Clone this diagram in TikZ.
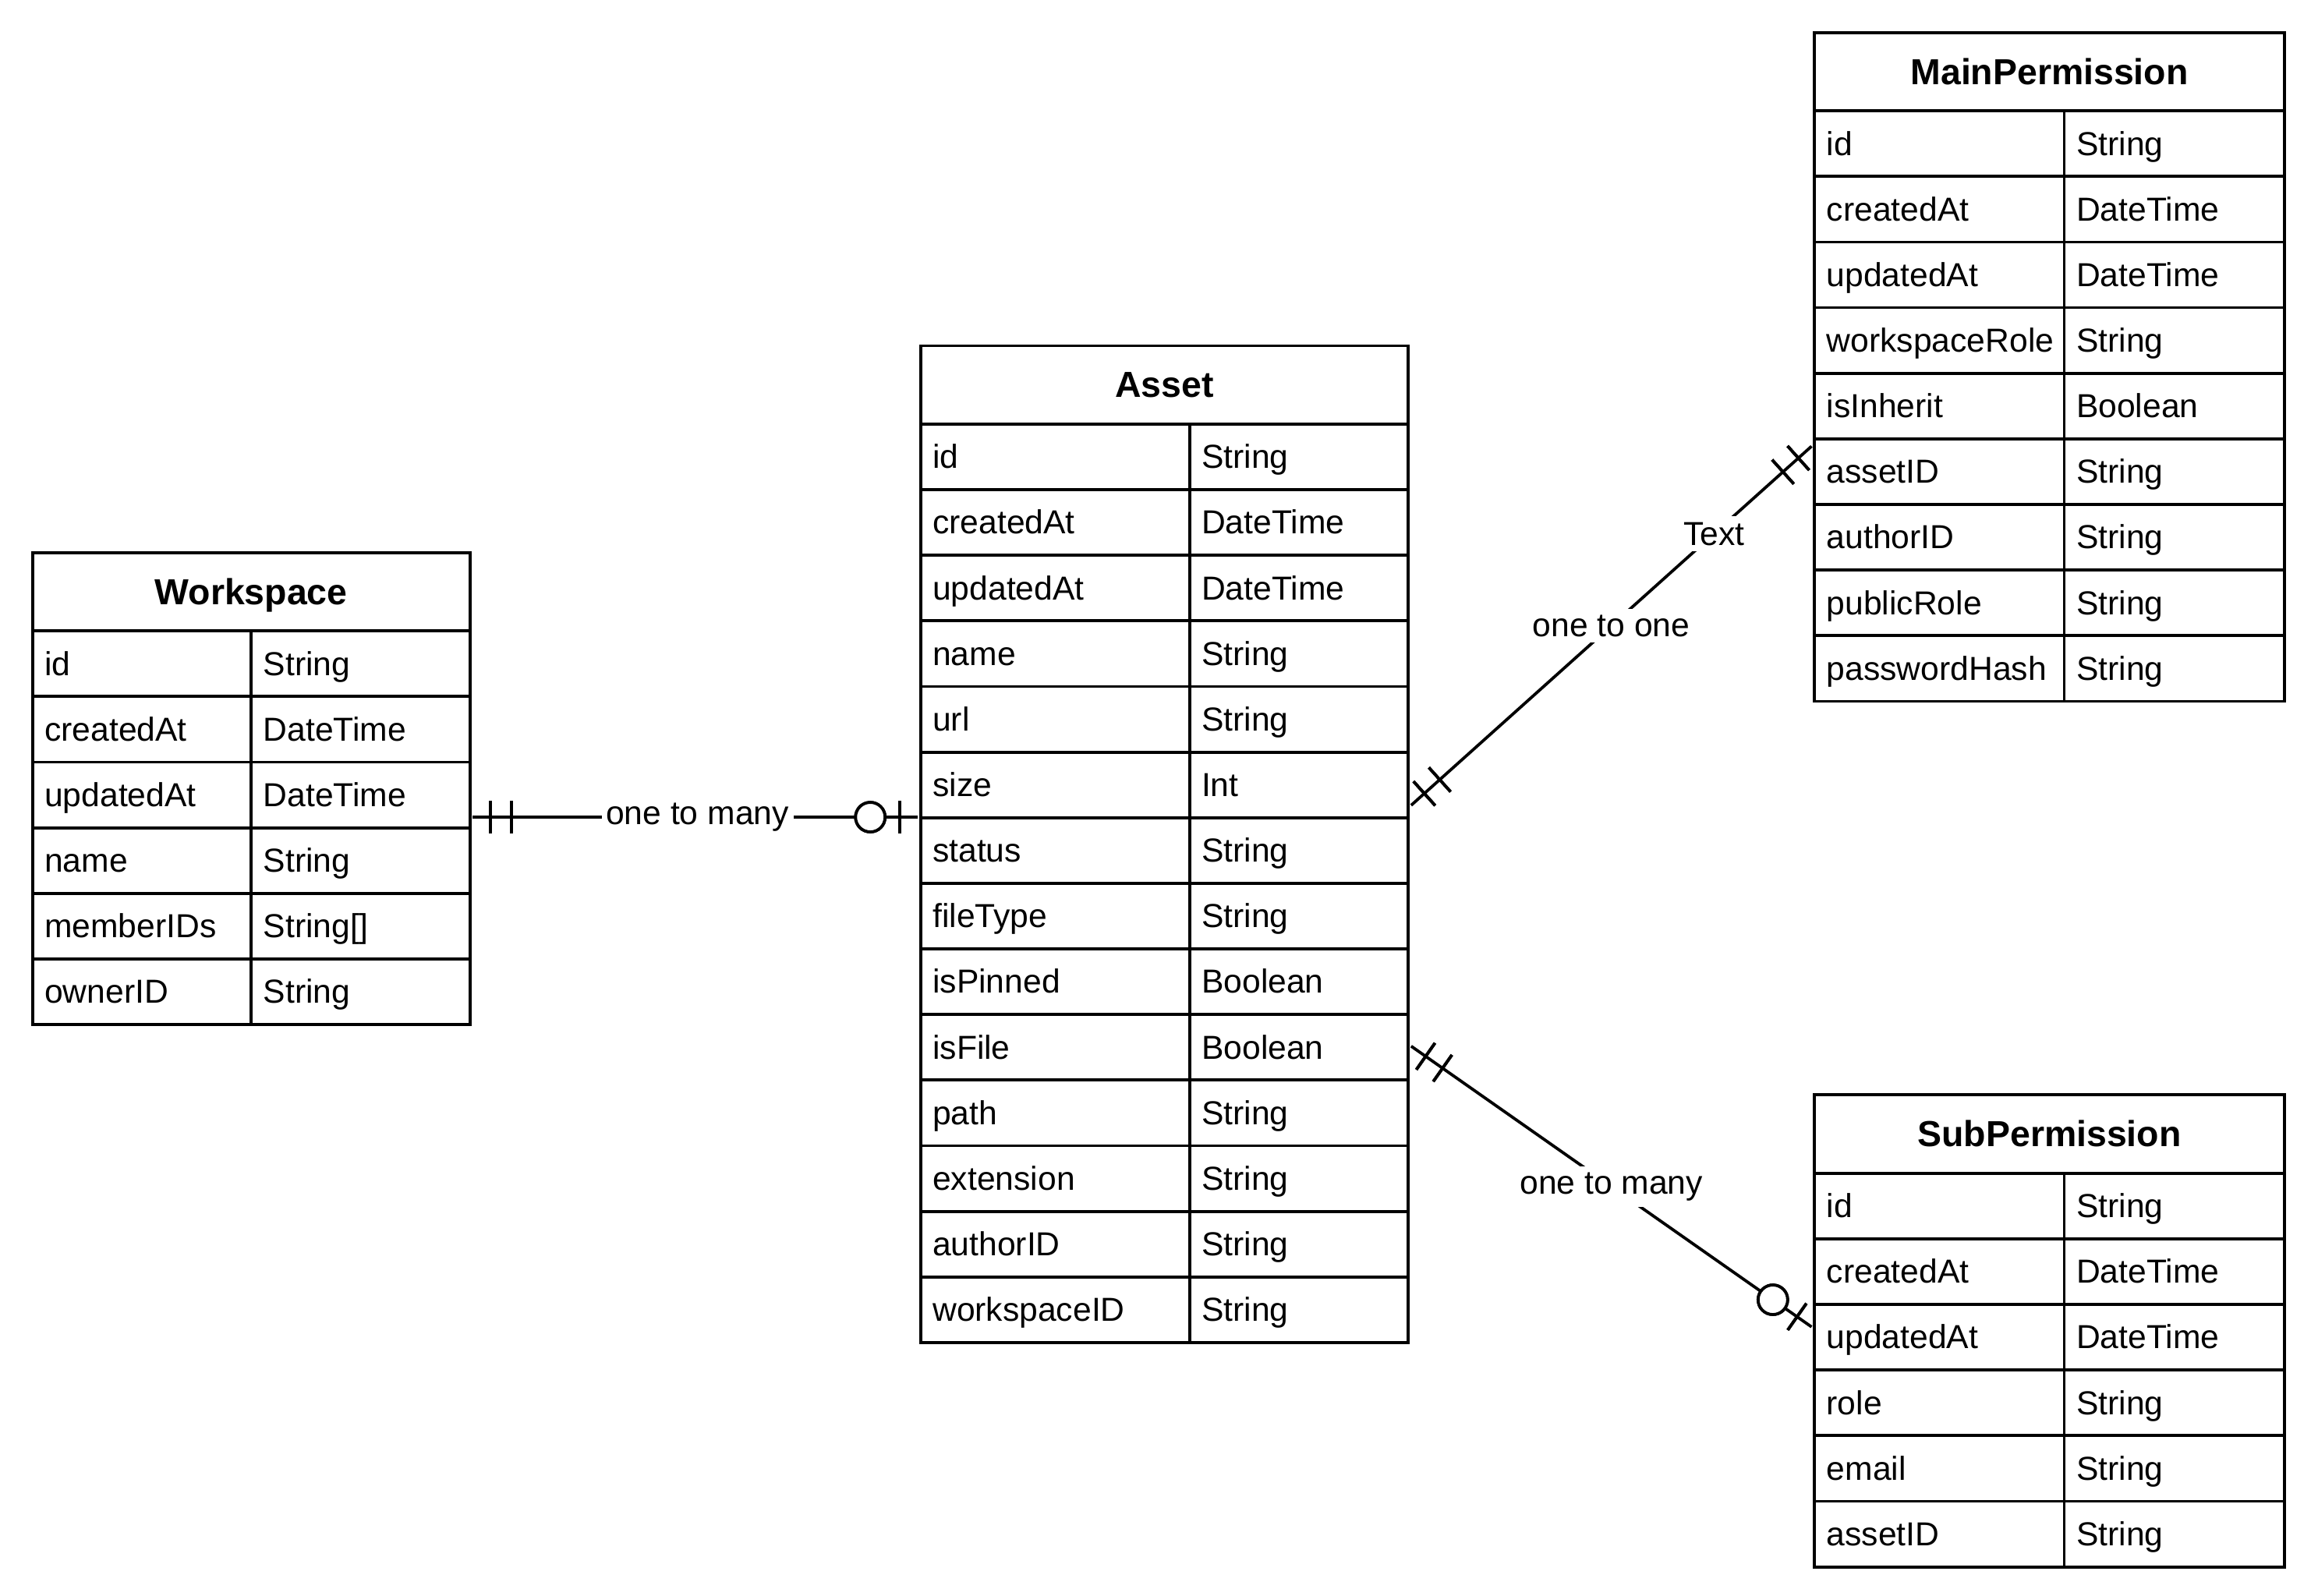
\documentclass[tikz,border=0pt]{standalone}
\usepackage{fontspec}
\setmainfont{Liberation Sans}
\usetikzlibrary{decorations.markings}
\tikzset{
 tbl/.style={line width=2pt},
 hdr/.style={font=\fontsize{24.5}{28}\selectfont\bfseries, inner sep=0pt, anchor=base},
 fld/.style={font=\fontsize{22.5}{27}\selectfont, anchor=base west, inner sep=0pt},
 lbl/.style={font=\fontsize{22.5}{27}\selectfont, fill=white, inner xsep=3pt, inner ysep=4pt},
 rel/.style={line width=2pt},
 barsA/.style={postaction=decorate, decoration={markings,
   mark=at position 12pt with {\draw[line width=2pt] (0,-11pt)--(0,11pt);},
   mark=at position 26pt with {\draw[line width=2pt] (0,-11pt)--(0,11pt);}}},
 barsB/.style={postaction=decorate, decoration={markings,
   mark=at position -12pt with {\draw[line width=2pt] (0,-11pt)--(0,11pt);},
   mark=at position -26pt with {\draw[line width=2pt] (0,-11pt)--(0,11pt);}}},
 zeroone/.style={postaction=decorate, decoration={markings,
   mark=at position -12pt with {\draw[line width=2pt] (0,-11pt)--(0,11pt);},
   mark=at position -32pt with {\draw[line width=2pt,fill=white] (0,0) circle (10pt);}}},
}
\newcommand\ertable[7]{%
 \draw[tbl] (#2,#5) rectangle (#4,#5+53);
 \node[hdr] (#1) at ({(#2+#4)/2},#5+35) {#6};
 \foreach[count=\i] \f/\t in {#7}{
   \pgfmathsetmacro\ya{#5+53+(\i-1)*44.4}
   \draw[tbl] (#2,\ya) rectangle (#3,\ya+44.4) (#3,\ya) rectangle (#4,\ya+44.4);
   \node[fld] (#1-f\i) at (#2+8,\ya+30) {\f};
   \node[fld] (#1-t\i) at (#3+8,\ya+30) {\t};
 }}
\begin{document}
\begin{tikzpicture}[x=1pt,y=-1pt]
\fill[white] (0,0) rectangle (1564,1080);
\useasboundingbox (0,0) rectangle (1564,1080);
\ertable{ws}{22}{170}{318}{374}{Workspace}{id/String,createdAt/DateTime,updatedAt/DateTime,name/String,memberIDs/String[],ownerID/String}
\ertable{as}{623}{805}{953}{234}{Asset}{id/String,createdAt/DateTime,updatedAt/DateTime,name/String,url/String,size/Int,status/String,fileType/String,isPinned/Boolean,isFile/Boolean,path/String,extension/String,authorID/String,workspaceID/String}
\ertable{mp}{1228}{1397}{1546}{22}{MainPermission}{id/String,createdAt/DateTime,updatedAt/DateTime,workspaceRole/String,isInherit/Boolean,assetID/String,authorID/String,publicRole/String,passwordHash/String}
\ertable{sp}{1228}{1397}{1546}{741}{SubPermission}{id/String,createdAt/DateTime,updatedAt/DateTime,role/String,email/String,assetID/String}
\coordinate (c1a) at (320,553);
\coordinate (c1b) at (621,553);
\coordinate (c2a) at (955,545);
\coordinate (c2b) at (1226,302);
\coordinate (c3a) at (955,708);
\coordinate (c3b) at (1226,898);
\draw[rel,barsA,zeroone] (c1a) -- node[lbl,pos=0.505] {one to many} (c1b);
\draw[rel,barsA,barsB] (c2a) -- node[lbl,pos=0.5] {one to one} node[lbl,pos=0.756] {Text} (c2b);
\draw[rel,barsA,zeroone] (c3a) -- node[lbl,pos=0.5] {one to many} (c3b);
\end{tikzpicture}
\end{document}
